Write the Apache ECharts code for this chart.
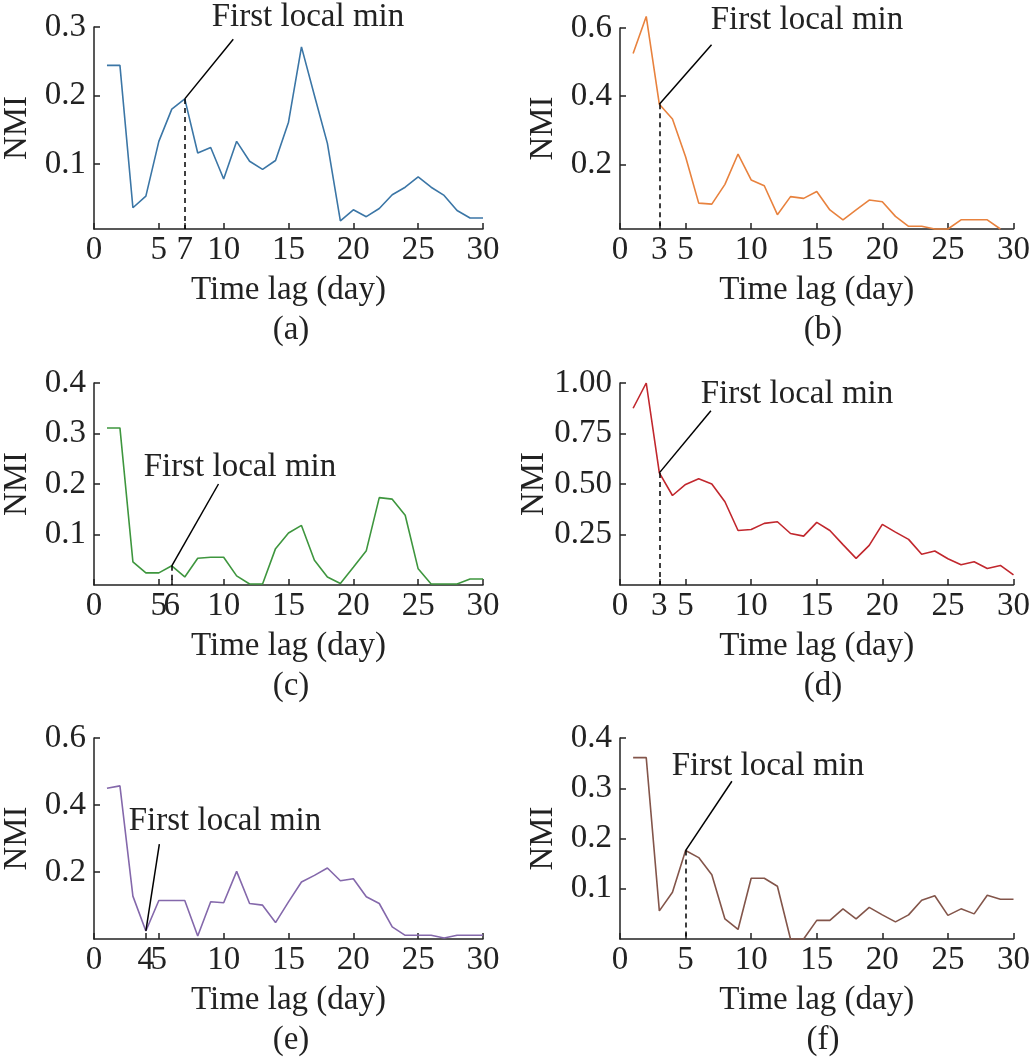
<!DOCTYPE html>
<html>
<head>
<meta charset="utf-8">
<title>NMI time lag</title>
<script src="https://cdn.jsdelivr.net/npm/echarts@6/dist/echarts.min.js"></script>
<style>
  html, body { margin: 0; padding: 0; background: #fff; }
  #main { width: 1033px; height: 1060px; }
</style>
</head>
<body>
<div id="main"></div>
<script>
// time lag 1..30 days
var days = [];
for (var i = 1; i <= 30; i++) days.push(i);

var nmiA = [0.244,0.244,0.036,0.053,0.133,0.180,0.195,0.116,0.124,0.078,0.133,0.104,0.092,0.105,0.161,0.271,0.200,0.130,0.017,0.033,0.023,0.035,0.055,0.066,0.081,0.066,0.054,0.032,0.021,0.021];
var nmiB = [0.525,0.634,0.376,0.333,0.222,0.086,0.083,0.141,0.230,0.154,0.137,0.052,0.105,0.100,0.120,0.066,0.037,0.066,0.095,0.090,0.047,0.018,0.018,0.010,0.010,0.037,0.037,0.037,0.010,null];
var nmiC = [0.311,0.311,0.046,0.024,0.024,0.038,0.016,0.053,0.055,0.055,0.018,0.002,0.002,0.072,0.103,0.118,0.049,0.016,0.003,0.035,0.068,0.173,0.170,0.138,0.032,0.002,0.002,0.002,0.012,0.012];
var nmiD = [0.875,1.000,0.555,0.443,0.498,0.526,0.500,0.412,0.270,0.275,0.305,0.313,0.255,0.242,0.310,0.270,0.200,0.132,0.196,0.300,0.262,0.226,0.152,0.168,0.130,0.100,0.115,0.082,0.097,0.050];
var nmiE = [0.450,0.457,0.128,0.024,0.115,0.115,0.115,0.009,0.111,0.108,0.202,0.106,0.101,0.049,0.111,0.170,0.190,0.212,0.174,0.180,0.126,0.106,0.036,0.011,0.011,0.011,0.003,0.011,0.011,0.011];
var nmiF = [0.361,0.361,0.056,0.093,0.176,0.162,0.128,0.040,0.019,0.121,0.121,0.105,0.000,0.000,0.037,0.037,0.060,0.040,0.063,0.048,0.034,0.048,0.077,0.086,0.047,0.060,0.050,0.087,0.079,0.079];

var xTicksA = [0,5,7,10,15,20,25,30];
var xTicksB = [0,3,5,10,15,20,25,30];
var xTicksC = [0,5,6,10,15,20,25,30];
var xTicksD = [0,3,5,10,15,20,25,30];
var xTicksE = [0,4,5,10,15,20,25,30];
var xTicksF = [0,5,10,15,20,25,30];

var yTicksA = [0.1,0.2,0.3];
var yTicksB = [0.2,0.4,0.6];
var yTicksC = [0.1,0.2,0.3,0.4];
var yTicksD = [0.25,0.5,0.75,1.0];
var yTicksE = [0.2,0.4,0.6];
var yTicksF = [0.1,0.2,0.3,0.4];

var font = 'Liberation Serif';
var fs = 33;
var panels = [
  {data: nmiA, color: '#3b76a6', xt: xTicksA, yt: yTicksA, ymin: 0.005, ymax: 0.3, dec: 1,
   pt: [7,0.195], end: [10.74,0.282], dash: true, box: {left: 89, top: 27, w: 394, h: 202},
   txt: [308, 17], lab: '(a)'},
  {data: nmiB, color: '#e8823e', xt: xTicksB, yt: yTicksB, ymin: 0.01, ymax: 0.6, dec: 1,
   pt: [3,0.376], end: [6.98,0.551], dash: true, box: {left: 620, top: 28, w: 396, h: 201},
   txt: [807, 20], lab: '(b)'},
  {data: nmiC, color: '#3e963e', xt: xTicksC, yt: yTicksC, ymin: 0, ymax: 0.4, dec: 1,
   pt: [6,0.038], end: [9.6,0.2], dash: true, box: {left: 89, top: 383, w: 394, h: 202},
   txt: [240, 467], lab: '(c)'},
  {data: nmiD, color: '#c1272d', xt: xTicksD, yt: yTicksD, ymin: 0, ymax: 1.0, dec: 2,
   pt: [3,0.555], end: [6.93,0.863], dash: true, box: {left: 620, top: 383, w: 396, h: 202},
   txt: [797, 394], lab: '(d)'},
  {data: nmiE, color: '#8468ab', xt: xTicksE, yt: yTicksE, ymin: 0, ymax: 0.6, dec: 1,
   pt: [4,0.024], end: [5.04,0.283], dash: false, box: {left: 89, top: 738, w: 394, h: 201},
   txt: [225, 821], lab: '(e)'},
  {data: nmiF, color: '#83554a', xt: xTicksF, yt: yTicksF, ymin: 0, ymax: 0.4, dec: 1,
   pt: [5,0.176], end: [8.53,0.314], dash: true, box: {left: 620, top: 738, w: 396, h: 201},
   txt: [768, 766], lab: '(f)'}
];

var grids = [], xAxes = [], yAxes = [], series = [], titles = [];
var labStyle = {color: '#222', fontFamily: font, fontSize: fs};

panels.forEach(function (p, k) {
  grids.push({left: p.box.left, top: p.box.top, width: p.box.w, height: p.box.h});
  xAxes.push({
    type: 'value', gridIndex: k, min: 0, max: 30,
    name: 'Time lag (day)', nameLocation: 'middle', nameGap: 45,
    nameTextStyle: labStyle,
    axisLine: {show: true, lineStyle: {color: '#222', width: 1.5}},
    axisTick: {show: true, inside: true, length: 6, customValues: p.xt, lineStyle: {color: '#222', width: 1.5}},
    axisLabel: {customValues: p.xt, margin: 5, color: '#222', fontFamily: font, fontSize: fs},
    splitLine: {show: false}
  });
  yAxes.push({
    type: 'value', gridIndex: k, min: p.ymin, max: p.ymax,
    name: 'NMI', nameLocation: 'middle', nameGap: 60,
    nameTextStyle: labStyle,
    axisLine: {show: true, lineStyle: {color: '#222', width: 1.5}},
    axisTick: {show: true, inside: true, length: 6, customValues: p.yt, lineStyle: {color: '#222', width: 1.5}},
    axisLabel: {customValues: p.yt, margin: 8, color: '#222', fontFamily: font, fontSize: fs,
      formatter: function (v) { return v.toFixed(p.dec); }},
    splitLine: {show: false}
  });
  var mlData = [[{coord: p.pt, lineStyle: {color: '#000', width: 1.5, type: 'solid'}}, {coord: p.end}]];
  if (p.dash) {
    mlData.push([{coord: p.pt, lineStyle: {color: '#000', width: 1.5, type: [5, 4]}}, {coord: [p.pt[0], p.ymin]}]);
  }
  series.push({
    type: 'line', xAxisIndex: k, yAxisIndex: k, clip: false,
    data: days.map(function (d, i) { return [d, p.data[i]]; }),
    showSymbol: false, symbol: 'none', connectNulls: false,
    lineStyle: {color: p.color, width: 1.6},
    markLine: {silent: true, symbol: 'none', animation: false, label: {show: false}, data: mlData}
  });
  titles.push({text: p.lab, left: p.box.left + p.box.w / 2, top: p.box.top + p.box.h + 80,
    textAlign: 'center', textStyle: {color: '#222', fontFamily: font, fontSize: fs, fontWeight: 'normal'}});
});

// annotation text, placed by its center point
var graphics = panels.map(function (p) {
  return {type: 'text', x: p.txt[0], y: p.txt[1], style: {
    text: 'First local min', fill: '#222', font: fs + 'px "' + font + '"',
    align: 'center', verticalAlign: 'middle'}};
});

var chart = echarts.init(document.getElementById('main'), null, {renderer: 'canvas'});
chart.setOption({
  animation: false,
  backgroundColor: '#fff',
  title: titles,
  grid: grids,
  xAxis: xAxes,
  yAxis: yAxes,
  series: series,
  graphic: graphics
});
</script>
</body>
</html>
